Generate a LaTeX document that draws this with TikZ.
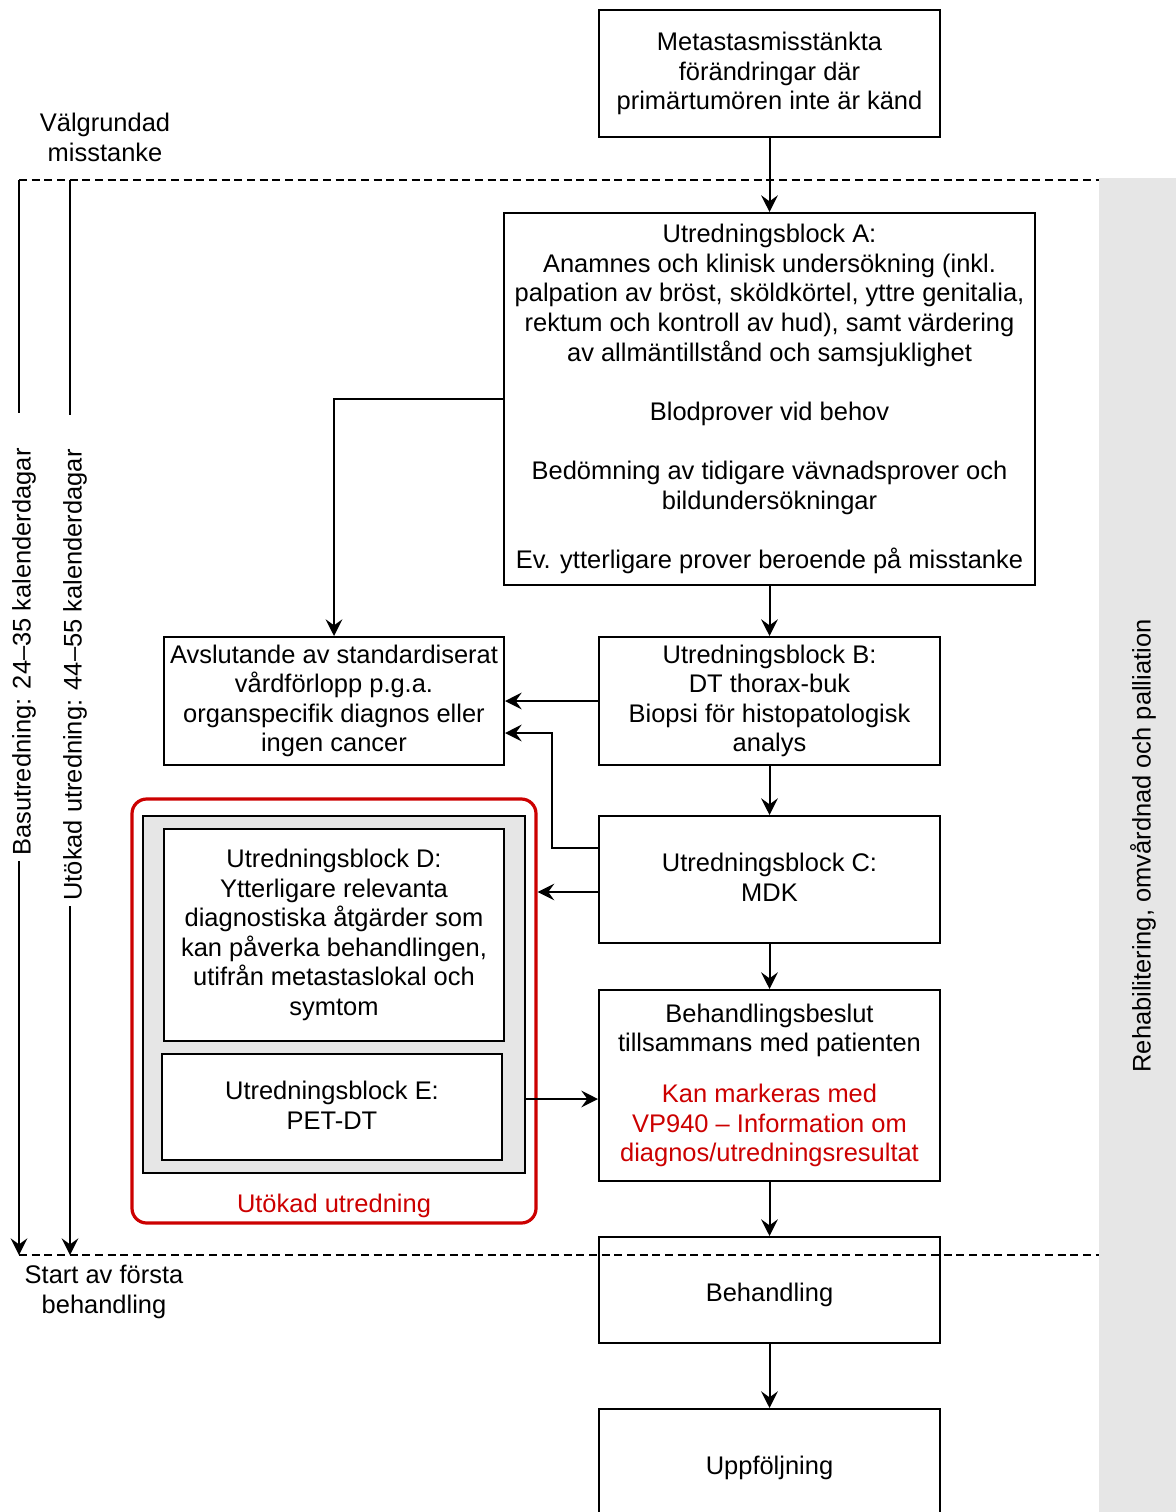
\documentclass[tikz,border=0pt]{standalone}
\usepackage{fontspec}
\setmainfont{Liberation Sans}
\usetikzlibrary{arrows.meta,calc,positioning}
\definecolor{redc}{HTML}{CC0000}
\definecolor{grayc}{HTML}{E6E6E6}
\begin{document}
\begin{tikzpicture}[x=0.75pt,y=-0.75pt,
  every node/.style={font=\fontsize{19.1}{22.2}\selectfont, align=center, inner sep=0pt,
    execute at begin node={\rule{0pt}{21.5pt}}, execute at end node={\rule[-3pt]{0pt}{3pt}}},
  box/.style={draw=black, line width=1.5pt, fill=white, minimum width=255.75pt},
  arr/.style={line width=1.5pt, -{Stealth[length=12.5pt,width=12.5pt,inset=4.5pt]}},
  ln/.style={line width=1.5pt},
  dash line/.style={line width=1.2pt, dash pattern=on 6pt off 3.5pt},
  redbox/.style={draw=redc, line width=2.4pt, rounded corners=11pt},
]
\useasboundingbox (0,0) rectangle (1176,1512);
% right band
\fill[grayc] (1099,178) rectangle (1176,1512);
\node[rotate=90] (rehab) at (1139,846) {Rehabilitering, omvårdnad och palliation};

% labels left
\node (valg) at (105,139) {Välgrundad\\misstanke};
\node (start) at (104,1292) {Start av första\\behandling};

% boxes
\node[box, minimum height=95.25pt] (met) at (769.5,73.5) {Metastasmisstänkta\\förändringar där\\primärtumören inte är känd};
\node[box, minimum width=398.25pt, minimum height=279pt] (A) at (769.5,399) {Utredningsblock A:\\Anamnes och klinisk undersökning (inkl.\\palpation av bröst, sköldkörtel, yttre genitalia,\\rektum och kontroll av hud), samt värdering\\av allmäntillstånd och samsjuklighet\\[22.2pt]Blodprover vid behov\\[22.2pt]Bedömning av tidigare vävnadsprover och\\bildundersökningar\\[22.2pt]Ev. ytterligare prover beroende på misstanke};
\node[box, minimum width=255pt, minimum height=96pt] (avs) at (334,701) {Avslutande av standardiserat\\vårdförlopp p.g.a.\\organspecifik diagnos eller\\ingen cancer};
\node[box, minimum height=96pt] (B) at (769.5,701) {Utredningsblock B:\\DT thorax-buk\\Biopsi för histopatologisk\\analys};
\node[box, minimum height=95.25pt] (C) at (769.5,879.5) {Utredningsblock C:\\MDK};

% extended group
\node[redbox, minimum width=303pt, minimum height=318pt] (red) at (334,1011) {};
\node[draw=black, line width=1.5pt, fill=grayc, minimum width=286.5pt, minimum height=267.75pt] (grp) at (334,994.5) {};
\node[box, minimum width=255pt, minimum height=159pt] (D) at (334,935) {Utredningsblock D:\\Ytterligare relevanta\\diagnostiska åtgärder som\\kan påverka behandlingen,\\utifrån metastaslokal och\\symtom};
\node[box, minimum width=255pt, minimum height=79.5pt] (E) at (332,1107) {Utredningsblock E:\\PET-DT};
\node[text=redc] (utok) at (334,1201) {Utökad utredning};

\node[box, minimum height=143.25pt] (besl) at (769.5,1085.5) {Behandlingsbeslut\\tillsammans med patienten\\[16pt]\textcolor{redc}{Kan markeras med}\\\textcolor{redc}{VP940 – Information om}\\\textcolor{redc}{diagnos/utredningsresultat}};
\node[box, minimum height=79.5pt] (beh) at (769.5,1290) {Behandling};
\node[box, minimum height=81pt] (upp) at (769.5,1463) {Uppföljning};

% connectors
\draw[arr] (met.south) -- (A.north);
\draw[arr] (A.west) -| (avs.north);
\draw[arr] (A.south) -- (B.north);
\draw[arr] (B.west) -- (avs.east);
\draw[arr] (B.south) -- (C.north);
\draw[arr] ($(C.west)+(0,-31.5)$) -- ++(-46,0) |- ($(avs.east)+(0,32)$);
\coordinate (c1) at ($(C.west)+(0,12.5)$);
\draw[arr] (c1) -- (c1 -| red.east);
\draw[arr] (C.south) -- (besl.north);
\coordinate (b1) at ($(besl.west)+(0,13.5)$);
\draw[arr] (b1 -| grp.east) -- (b1);
\draw[arr] (besl.south) -- (beh.north);
\draw[arr] (beh.south) -- (upp.north);

% dashed lines
\coordinate (dtl) at (19,180);
\coordinate (dtr) at (1099,180);
\coordinate (dbl) at (19,1255);
\coordinate (dbr) at (1099,1255);
\draw[dash line] (dtl) -- (dtr);
\draw[dash line] (dbl) -- (dbr);

% time spans
\coordinate (l1a) at (19,180); \coordinate (l1b) at (19,413);
\coordinate (l1c) at (19,861); \coordinate (l1d) at (19,1255);
\coordinate (l2a) at (70,180); \coordinate (l2b) at (70,415);
\coordinate (l2c) at (70,906); \coordinate (l2d) at (70,1255);
\draw[ln] (l1a) -- (l1b);
\draw[arr] (l1c) -- (l1d);
\draw[ln] (l2a) -- (l2b);
\draw[arr] (l2c) -- (l2d);
\node[rotate=90] (bas) at (19,652) {Basutredning: 24–35 kalenderdagar};
\node[rotate=90] (uto) at (70,675) {Utökad utredning: 44–55 kalenderdagar};
\end{tikzpicture}
\end{document}
